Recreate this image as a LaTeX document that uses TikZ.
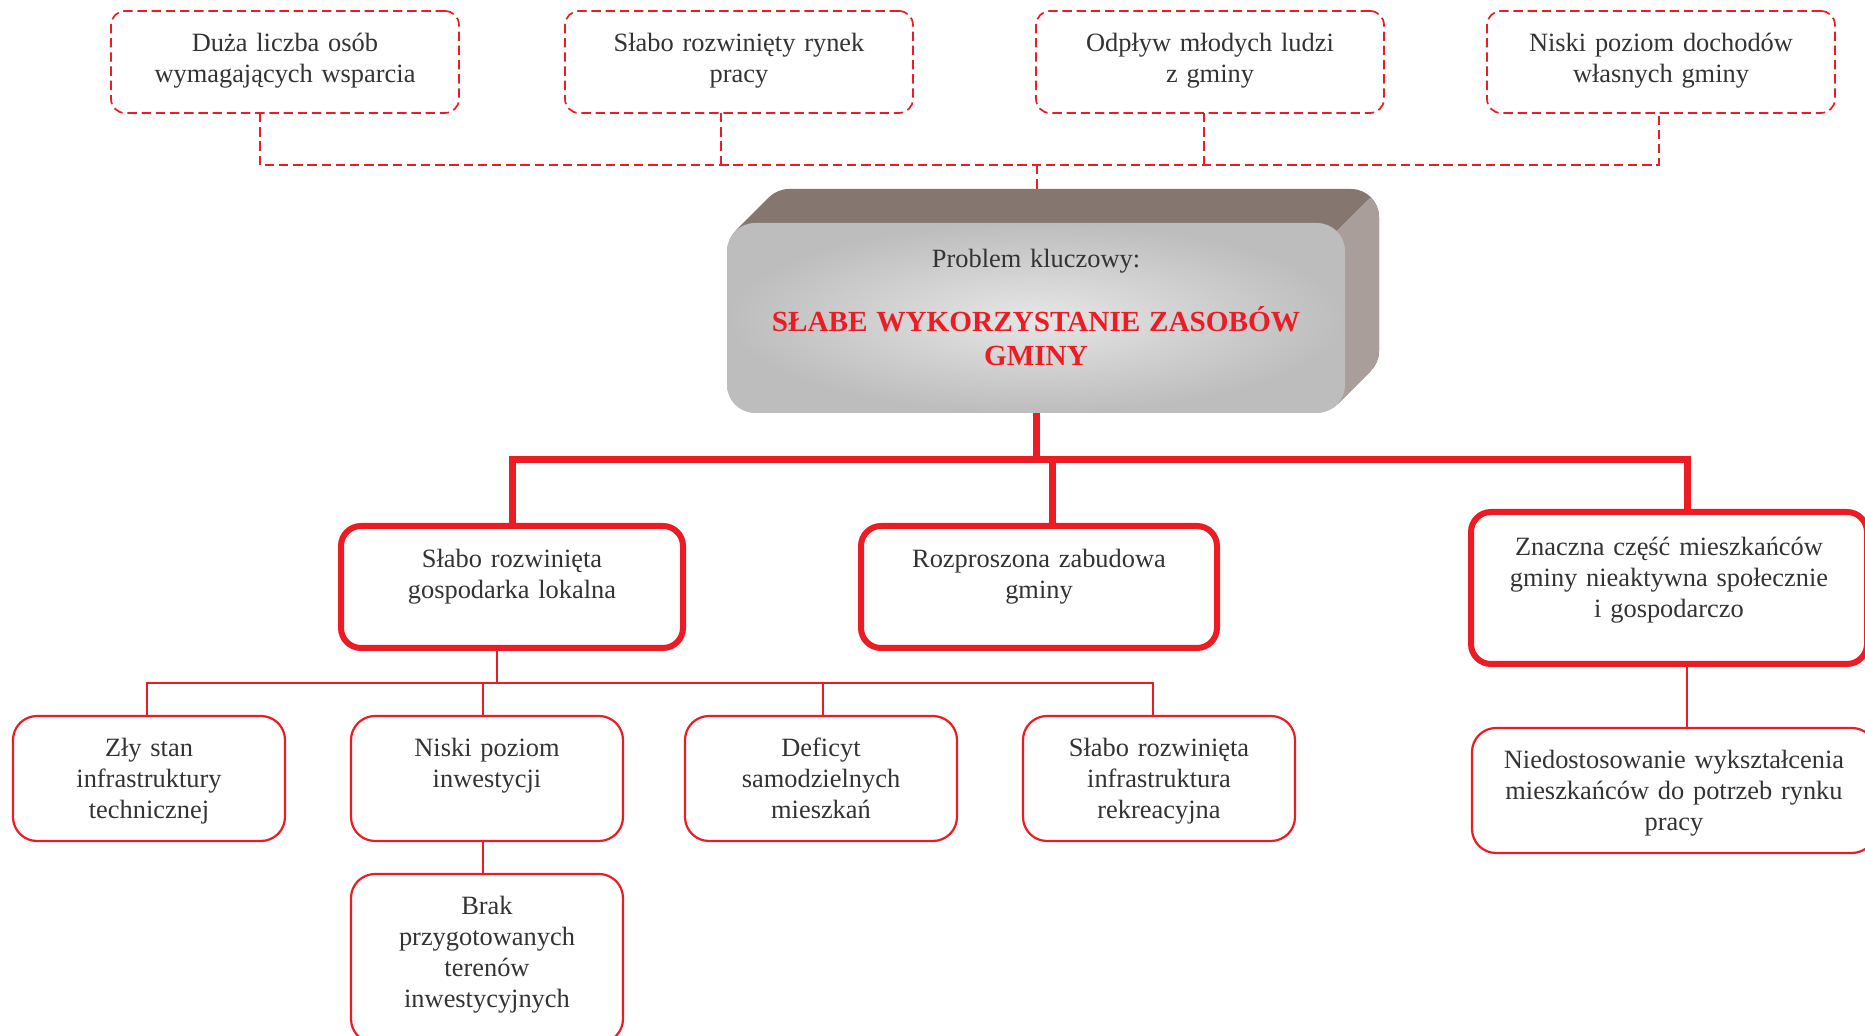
\documentclass[tikz,border=0pt]{standalone}
\usepackage{fontspec}
\setmainfont{Liberation Serif}
\definecolor{keyred}{HTML}{ED1C24}
\definecolor{txtgray}{HTML}{333333}
\definecolor{backtop}{HTML}{857670}
\definecolor{backside}{HTML}{A99E9A}
\definecolor{shadein}{HTML}{E6E6E6}
\definecolor{shadeout}{HTML}{BDBDBD}
\newcommand{\bodysize}{\fontsize{13.2}{15.5}\selectfont}
\newcommand{\titlesize}{\fontsize{14.6}{17}\selectfont\bfseries\color{keyred}}
\begin{document}
\begin{tikzpicture}[x=0.5pt, y=-0.5pt,
        boxbase/.style = {inner sep=0pt, outer sep=0pt, anchor=north, align=center, text=txtgray, font=\bodysize, text height=20.1pt},
        cause/.style = {boxbase, draw=keyred, line width=0.85pt, dash pattern=on 4.7pt off 2.4pt, rounded corners=7pt, minimum width=174pt, text width=168pt, text depth=30.9pt},
        area/.style = {boxbase, draw=keyred, line width=3pt, rounded corners=10pt, text height=20.6pt, text depth=40.4pt},
        factor/.style = {boxbase, draw=keyred, line width=1.1pt, rounded corners=12pt, minimum width=136pt, text width=130pt, text depth=42.4pt},
        keybox/.style = {inner sep=0pt, outer sep=0pt, rounded corners=14pt, minimum width=309pt, text width=300pt, align=center, text=txtgray, font=\bodysize, text height=22.5pt, text depth=72.5pt, inner color=shadein, outer color=shadeout},
        dashlink/.style = {draw=keyred, line width=0.85pt, dash pattern=on 4.7pt off 2.4pt},
        mainlink/.style = {draw=keyred, line width=3.5pt},
        sublink/.style = {draw=keyred, line width=1pt}]
        \useasboundingbox (0,0) rectangle (1865,1036);
        \node[cause] (wsparcie) at (285,11) {Duża liczba osób\\wymagających wsparcia};
        \node[cause] (rynek) at (739,11) {Słabo rozwinięty rynek\\pracy};
        \node[cause] (odplyw) at (1210,11) {Odpływ młodych ludzi\\z gminy};
        \node[cause] (dochody) at (1661,11) {Niski poziom dochodów\\własnych gminy};
        \coordinate (d1) at (260,165);
        \coordinate (d2) at (721,165);
        \coordinate (d3) at (1204,165);
        \coordinate (d4) at (1659,165);
        \coordinate (dk) at (1037,165);
        \coordinate (keytop) at (1037,189);
        \draw[dashlink] (wsparcie.south -| d1) -- (d1) -- (d4) -- (dochody.south -| d4);
        \draw[dashlink] (rynek.south -| d2) -- (d2);
        \draw[dashlink] (odplyw.south -| d3) -- (d3);
        \draw[dashlink] (dk) -- (keytop);
        \foreach \k in {34,33,...,1}
            \fill[backtop, rounded corners=14pt] ({727+\k},{223-\k}) rectangle ({1345+\k},{413-\k});
        \begin{scope}
            \clip (1337,231) -- (1391,177) -- (1420,177) -- (1420,430) -- (1337,430) -- cycle;
            \foreach \k in {34,33,...,1}
                \fill[backside, rounded corners=14pt] ({727+\k},{223-\k}) rectangle ({1345+\k},{413-\k});
        \end{scope}
        \node[keybox] (problem) at (1036,318) {Problem kluczowy:\\[15pt]{\titlesize SŁABE WYKORZYSTANIE ZASOBÓW\\[1.5pt]GMINY}};
        \node[area, minimum width=171pt, text width=165pt] (gospodarka) at (512,526) {Słabo rozwinięta\\gospodarka lokalna};
        \node[area, minimum width=178pt, text width=172pt] (zabudowa) at (1039,526) {Rozproszona zabudowa\\gminy};
        \node[area, minimum width=198pt, text width=192pt, text height=22pt, text depth=54pt] (aktywnosc) at (1669,512) {Znaczna część mieszkańców\\gminy nieaktywna społecznie\\i gospodarczo};
        \coordinate (ba) at (512,460);
        \coordinate (bb) at (1052,460);
        \coordinate (bc) at (1687,460);
        \draw[mainlink] (problem.south) -- (problem.south |- ba);
        \draw[mainlink] (gospodarka.north) -- (ba) -- (bc) -- (bc |- aktywnosc.north);
        \draw[mainlink] (bb) -- (bb |- zabudowa.north);
        \node[factor] (infrastruktura) at (149,716) {Zły stan\\infrastruktury\\technicznej};
        \node[factor] (inwestycje) at (487,716) {Niski poziom\\inwestycji};
        \node[factor] (mieszkania) at (821,716) {Deficyt\\samodzielnych\\mieszkań};
        \node[factor] (rekreacja) at (1159,716) {Słabo rozwinięta\\infrastruktura\\rekreacyjna};
        \node[factor, text depth=64.4pt] (tereny) at (487,874) {Brak\\przygotowanych\\terenów\\inwestycyjnych};
        \node[factor, minimum width=202pt, text width=196pt, text depth=42.4pt] (wyksztalcenie) at (1674,728) {Niedostosowanie wykształcenia\\mieszkańców do potrzeb rynku\\pracy};
        \coordinate (fa) at (497,683);
        \coordinate (f1) at (147,683);
        \coordinate (f2) at (483,683);
        \coordinate (f3) at (823,683);
        \coordinate (f4) at (1153,683);
        \draw[sublink] (gospodarka.south -| fa) -- (fa);
        \draw[sublink] (infrastruktura.north -| f1) -- (f1) -- (f4) -- (rekreacja.north -| f4);
        \draw[sublink] (f2) -- (inwestycje.north -| f2);
        \draw[sublink] (f3) -- (mieszkania.north -| f3);
        \draw[sublink] (inwestycje.south -| f2) -- (tereny.north -| f2);
        \draw[sublink] (aktywnosc.south -| bc) -- (wyksztalcenie.north -| bc);
\end{tikzpicture}
\end{document}
